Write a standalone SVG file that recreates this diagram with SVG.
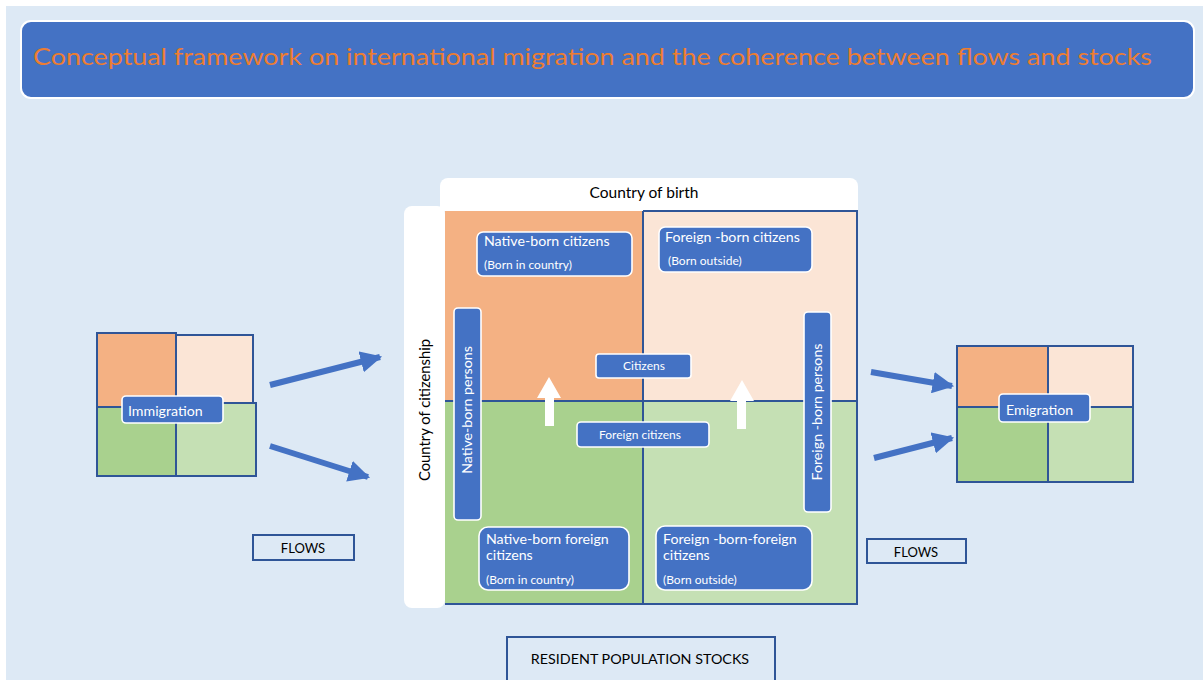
<svg xmlns="http://www.w3.org/2000/svg" width="1203" height="680" viewBox="0 0 1203 680">
<defs>
<style>
text{font-family:Lato,"Open Sans","Liberation Sans",sans-serif}
.lbl{fill:#4472c4;stroke:#fff;stroke-width:1.6}
.wt{fill:#fff;font-size:14.2px}
.sm{fill:#fff;font-size:12px}
.dk{fill:#000}
.grid{stroke:#2f5597;stroke-width:2}
.or{fill:#f4b183}.pe{fill:#fbe5d6}.gr{fill:#a9d18e}.lg{fill:#c5e0b4}
.box{fill:#dde9f5;stroke:#2f5597;stroke-width:2}
</style>
<marker id="ah" viewBox="0 0 10 10" refX="9" refY="5" markerWidth="3.6" markerHeight="3.6" orient="auto" markerUnits="strokeWidth"><path d="M0,0 L10,5 L0,10 z" fill="#4472c4"/></marker>
</defs>
<rect x="0" y="0" width="1203" height="680" fill="#fff"/>
<rect x="6" y="6" width="1197" height="674" fill="#dde9f5"/>
<g id="title">
<rect x="21" y="21" width="1173" height="77" rx="10" fill="#4472c4" stroke="#fff" stroke-width="2"/>
<text x="33" y="65" font-size="24" fill="#ed7d31" textLength="1119" lengthAdjust="spacingAndGlyphs">Conceptual framework on international migration and the coherence between flows and stocks</text>
</g>
<g id="axis-birth">
<path d="M440,186 a8,8 0 0 1 8,-8 h402 a8,8 0 0 1 8,8 v25 h-418 z" fill="#fff"/>
<text x="644" y="198" class="dk" font-size="15.5" text-anchor="middle">Country of birth</text>
</g>
<g id="axis-citizenship">
<rect x="404" y="206" width="41" height="402" rx="8" fill="#fff"/>
<text transform="translate(430,410) rotate(-90)" class="dk" font-size="14.8" text-anchor="middle">Country of citizenship</text>
</g>
<g id="stock-grid">
<rect x="445" y="211" width="198" height="190" class="or"/>
<rect x="643" y="211" width="214" height="190" class="pe"/>
<rect x="445" y="401" width="198" height="203" class="gr"/>
<rect x="643" y="401" width="214" height="203" class="lg"/>
<path d="M643,211 V604 M445,401 H857 M643,211 H857 V604 H445" class="grid" fill="none"/>
</g>
<g id="native-born-citizens">
<rect x="477" y="232" width="155" height="44" rx="6" class="lbl"/>
<text x="484" y="246" class="wt">Native-born citizens</text>
<text x="484" y="269" class="sm">(Born in country)</text>
</g>
<g id="foreign-born-citizens">
<rect x="659" y="227" width="153" height="45" rx="6" class="lbl"/>
<text x="665" y="242" class="wt">Foreign -born citizens</text>
<text x="668" y="265" class="sm">(Born outside)</text>
</g>
<g id="native-born-persons">
<rect x="454" y="308" width="27" height="212" rx="4" class="lbl"/>
<text transform="translate(472,410) rotate(-90)" class="wt" text-anchor="middle">Native-born persons</text>
</g>
<g id="foreign-born-persons">
<rect x="804" y="312" width="27" height="200" rx="4" class="lbl"/>
<text transform="translate(822,412) rotate(-90)" class="wt" text-anchor="middle">Foreign -born persons</text>
</g>
<g id="citizens">
<rect x="596" y="354" width="95" height="24" rx="3" class="lbl"/>
<text x="644" y="370" class="sm" text-anchor="middle">Citizens</text>
</g>
<g id="foreign-citizens">
<rect x="577" y="422" width="132" height="25" rx="4" class="lbl"/>
<text x="640" y="439" class="sm" text-anchor="middle">Foreign citizens</text>
</g>
<g id="native-born-foreign-citizens">
<rect x="479" y="527" width="150" height="63" rx="9" class="lbl"/>
<text x="486" y="544" class="wt">Native-born foreign</text>
<text x="486" y="560" class="wt">citizens</text>
<text x="486" y="584" class="sm">(Born in country)</text>
</g>
<g id="foreign-born-foreign-citizens">
<rect x="656" y="526" width="156" height="64" rx="9" class="lbl"/>
<text x="663" y="544" class="wt">Foreign -born-foreign</text>
<text x="663" y="560" class="wt">citizens</text>
<text x="663" y="584" class="sm">(Born outside)</text>
</g>
<g id="immigration">
<rect x="97" y="333" width="79" height="74" class="or grid"/>
<rect x="176" y="335" width="77" height="68" class="pe grid"/>
<rect x="97" y="407" width="79" height="69" class="gr grid"/>
<rect x="176" y="403" width="80" height="73" class="lg grid"/>
<rect x="122" y="396" width="101" height="27" rx="4" class="lbl"/>
<text x="128" y="416" class="wt">Immigration</text>
</g>
<g id="emigration">
<rect x="957" y="346" width="91" height="61" class="or grid"/>
<rect x="1048" y="346" width="85" height="61" class="pe grid"/>
<rect x="957" y="407" width="91" height="75" class="gr grid"/>
<rect x="1048" y="407" width="85" height="75" class="lg grid"/>
<rect x="999" y="394" width="91" height="28" rx="4" class="lbl"/>
<text x="1006" y="415" class="wt">Emigration</text>
</g>
<g id="flows-left">
<rect x="253" y="535" width="101" height="25" class="box"/>
<text x="303" y="553" class="dk" font-size="13" text-anchor="middle">FLOWS</text>
</g>
<g id="flows-right">
<rect x="867" y="539" width="99" height="24" class="box"/>
<text x="916" y="557" class="dk" font-size="13" text-anchor="middle">FLOWS</text>
</g>
<g id="stocks">
<rect x="507" y="637" width="268" height="50" class="box"/>
<text x="640" y="664" class="dk" font-size="14.3" text-anchor="middle">RESIDENT POPULATION STOCKS</text>
</g>
<g id="connectors">
<g stroke="#4472c4" stroke-width="6" fill="none" marker-end="url(#ah)">
<line x1="270" y1="385" x2="380" y2="357"/>
<line x1="270" y1="446" x2="368" y2="477"/>
<line x1="871" y1="372" x2="952" y2="386"/>
<line x1="874" y1="458" x2="952" y2="438"/>
</g>
<g fill="#fff">
<path d="M549,377 L561,398 L554,398 L554,426 L545,426 L545,398 L537,398 Z"/>
<path d="M742,380 L754,401 L746,401 L746,429 L737,429 L737,401 L730,401 Z"/>
</g>
</g>
</svg>
